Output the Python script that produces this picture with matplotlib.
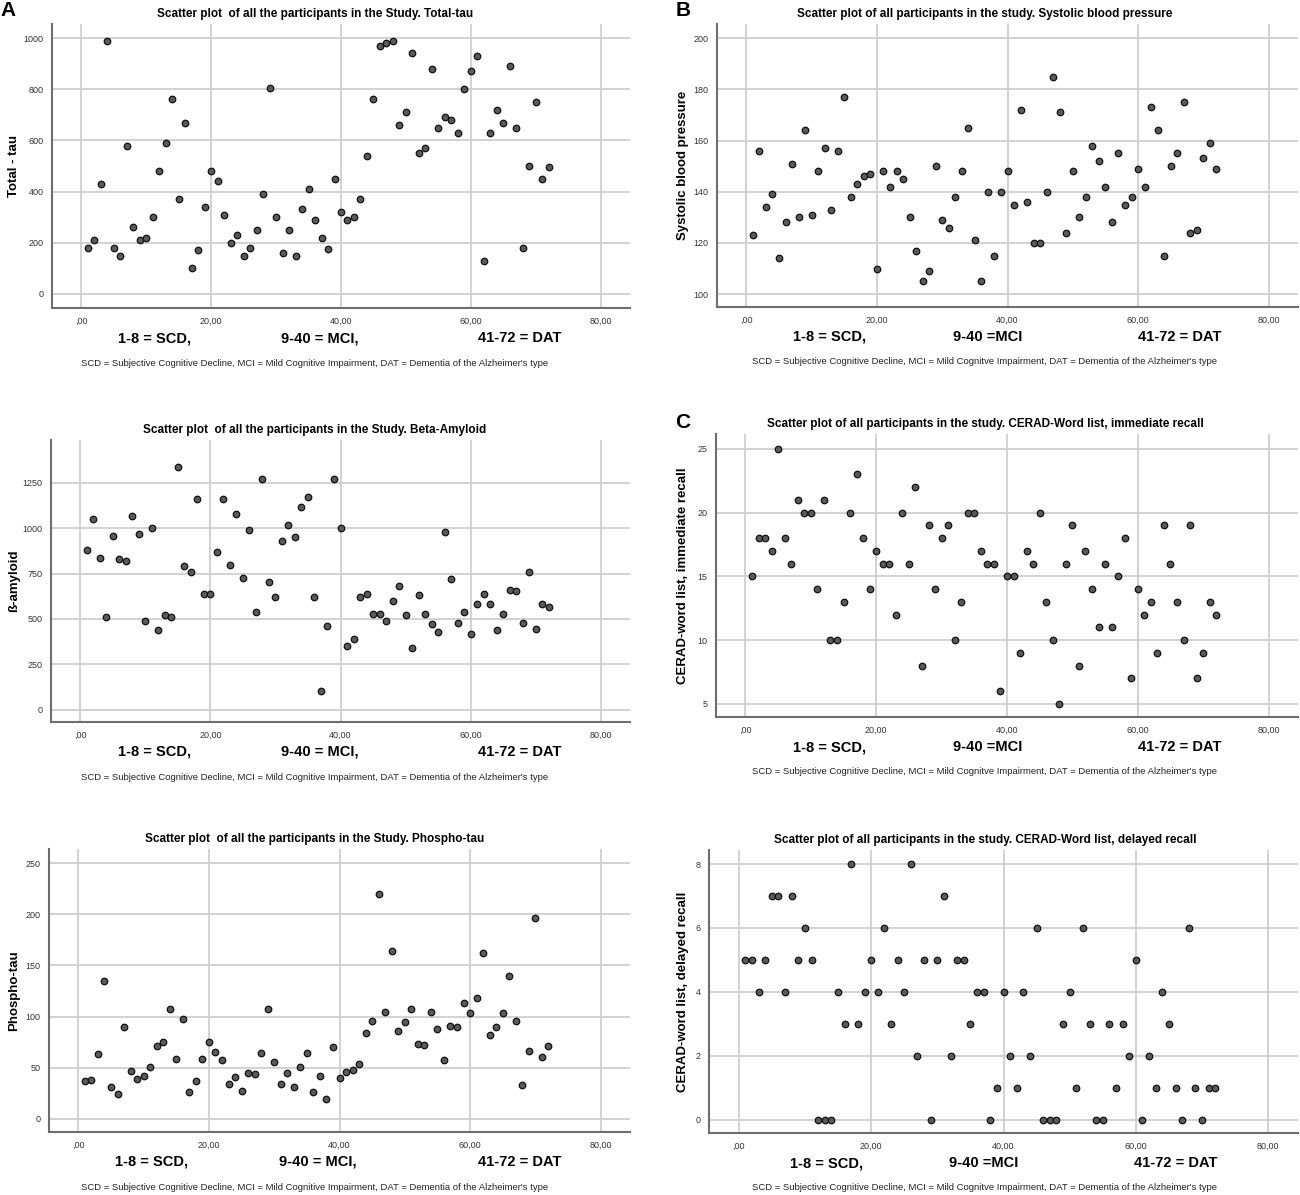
import matplotlib
matplotlib.use("Agg")
import matplotlib.pyplot as plt

plt.rcParams["font.family"] = ["Liberation Sans", "DejaVu Sans"]

# participant number 1..72
participants = list(range(1, 73))

total_tau = [180, 210, 430, 990, 180, 150, 580, 260, 210, 220, 300, 480, 590, 760, 370, 670,
             100, 170, 340, 480, 440, 310, 200, 230, 150, 180, 250, 390, 805, 300, 160, 250,
             150, 330, 410, 290, 220, 175, 450, 320, 290, 300, 370, 540, 760, 970, 980, 990,
             660, 710, 940, 550, 570, 880, 650, 690, 680, 630, 800, 870, 930, 130, 630, 720,
             670, 890, 650, 180, 500, 750, 450, 495]

systolic_bp = [123, 156, 134, 139, 114, 128, 151, 130, 164, 131, 148, 157, 133, 156, 177, 138,
               143, 146, 147, 110, 148, 142, 148, 145, 130, 117, 105, 109, 150, 129, 126, 138,
               148, 165, 121, 105, 140, 115, 140, 148, 135, 172, 136, 120, 120, 140, 185, 171,
               124, 148, 130, 138, 158, 152, 142, 128, 155, 135, 138, 149, 142, 173, 164, 115,
               150, 155, 175, 124, 125, 153, 159, 149]

beta_amyloid = [880, 1050, 835, 510, 960, 830, 820, 1070, 970, 490, 1000, 440, 520, 510, 1340, 790,
                760, 1160, 640, 640, 870, 1160, 800, 1080, 725, 990, 540, 1270, 705, 620, 930, 1020,
                950, 1120, 1170, 620, 105, 460, 1270, 1000, 350, 390, 620, 640, 530, 530, 490, 600,
                680, 520, 340, 630, 530, 475, 430, 980, 720, 480, 540, 420, 580, 640, 580, 440,
                530, 660, 655, 480, 760, 445, 580, 565]

immediate_recall = [15, 18, 18, 17, 25, 18, 16, 21, 20, 20, 14, 21, 10, 10, 13, 20,
                    23, 18, 14, 17, 16, 16, 12, 20, 16, 22, 8, 19, 14, 18, 19, 10,
                    13, 20, 20, 17, 16, 16, 6, 15, 15, 9, 17, 16, 20, 13, 10, 5,
                    16, 19, 8, 17, 14, 11, 16, 11, 15, 18, 7, 14, 12, 13, 9, 19,
                    16, 13, 10, 19, 7, 9, 13, 12]

phospho_tau = [37, 38, 63, 135, 31, 24, 90, 47, 39, 42, 51, 71, 75, 107, 58, 98,
               26, 37, 58, 75, 65, 57, 34, 41, 27, 45, 44, 64, 107, 56, 34, 45,
               31, 51, 64, 26, 42, 19, 70, 40, 46, 48, 54, 84, 96, 220, 104, 164,
               86, 95, 107, 73, 72, 104, 88, 57, 91, 90, 113, 103, 118, 162, 82, 90,
               103, 140, 96, 33, 66, 196, 60, 71]

delayed_recall = [5, 5, 4, 5, 7, 7, 4, 7, 5, 6, 5, 0, 0, 0, 4, 3,
                  8, 3, 4, 5, 4, 6, 3, 5, 4, 8, 2, 5, 0, 5, 7, 2,
                  5, 5, 3, 4, 4, 0, 1, 4, 2, 1, 4, 2, 6, 0, 0, 0,
                  3, 4, 1, 6, 3, 0, 0, 3, 1, 3, 2, 5, 0, 2, 1, 4,
                  3, 1, 0, 6, 1, 0, 1, 1]

x_ticks = [0, 20, 40, 60, 80]
x_ticklabels = [",00", "20,00", "40,00", "60,00", "80,00"]

footnote_a = "SCD = Subjective Cognitive Decline, MCI = Mild Cognitive Impairment, DAT = Dementia of the Alzheimer's type"
footnote_b = "SCD = Subjective Cognitive Decline, MCI = Mild Cognitve Impairment, DAT = Dementia of the Alzheimer's type"

W, H = 1300, 1195
fig = plt.figure(figsize=(W / 100, H / 100), dpi=100)


def px_axes(left, top, right, bottom):
    return fig.add_axes([left / W, 1 - bottom / H, (right - left) / W, (bottom - top) / H])


def panel(box, values, ylim, yticks, ylabel, title, title_x, groups, group_x, footnote,
          ylabel_x):
    left, top, right, bottom = box
    ax = px_axes(left, top, right, bottom)
    ax.scatter(participants, values, s=22, facecolor="#5a5a5a", edgecolor="#111111",
               linewidth=0.9, zorder=3)
    ax.set_xlim(-4.5, 84.5)
    ax.set_ylim(*ylim)
    ax.set_xticks(x_ticks)
    ax.set_xticklabels(x_ticklabels)
    ax.set_yticks(yticks)
    ax.set_yticklabels([str(t) for t in yticks])
    ax.tick_params(length=0, labelsize=6.5, labelcolor="#333333", pad=6)
    ax.grid(True, color="#cfcfcf", linewidth=1.3)
    ax.set_axisbelow(True)
    for s in ["top", "right"]:
        ax.spines[s].set_visible(False)
    for s in ["left", "bottom"]:
        ax.spines[s].set_color("#6e6e6e")
        ax.spines[s].set_linewidth(1.5)
    fig.text(ylabel_x / W, 1 - (top + bottom) / 2 / H, ylabel, rotation=90,
             ha="center", va="center", fontsize=9.5, fontweight="bold")
    fig.text(title_x / W, 1 - (top - 10) / H, title, ha="center", va="center",
             fontsize=8.5, fontweight="bold")
    for g, gx in zip(groups, group_x):
        fig.text(gx / W, 1 - (bottom + 30) / H, g, ha="center", va="center",
                 fontsize=10.5, fontweight="bold")
    fig.text(title_x / W, 1 - (bottom + 55) / H, footnote, ha="center", va="center",
             fontsize=6.8, color="#222222")
    return ax


groups_left = ["1-8 = SCD,", "9-40 = MCI,", "41-72 = DAT"]
groups_right = ["1-8 = SCD,", "9-40 =MCI", "41-72 = DAT"]

panel((52, 24, 630, 308), total_tau, (-55, 1055), [0, 200, 400, 600, 800, 1000],
      "Total - tau", "Scatter plot  of all the participants in the Study. Total-tau",
      315, groups_left, [155, 320, 520], footnote_a, 14)

panel((717, 24, 1298, 307), systolic_bp, (95, 205.5), [100, 120, 140, 160, 180, 200],
      "Systolic blood pressure", "Scatter plot of all participants in the study. Systolic blood pressure",
      985, groups_right, [830, 988, 1180], footnote_b, 683)

panel((51, 440, 630, 722), beta_amyloid, (-68, 1487), [0, 250, 500, 750, 1000, 1250],
      "ß-amyloid", "Scatter plot  of all the participants in the Study. Beta-Amyloid",
      315, groups_left, [155, 320, 520], footnote_a, 14)

panel((716, 434, 1298, 717), immediate_recall, (3.98, 26.15), [5, 10, 15, 20, 25],
      "CERAD-word list, immediate recall",
      "Scatter plot of all participants in the study. CERAD-Word list, immediate recall",
      985, groups_right, [830, 988, 1180], footnote_b, 683)

panel((49, 849, 630, 1132), phospho_tau, (-13, 264), [0, 50, 100, 150, 200, 250],
      "Phospho-tau", "Scatter plot  of all the participants in the Study. Phospho-tau",
      315, groups_left, [152, 318, 520], footnote_a, 14)

panel((709, 850, 1298, 1133), delayed_recall, (-0.42, 8.44), [0, 2, 4, 6, 8],
      "CERAD-word list, delayed recall",
      "Scatter plot of all participants in the study. CERAD-Word list, delayed recall",
      985, groups_right, [827, 984, 1176], footnote_b, 683)

for letter, lx, ly in [("A", 8, 10), ("B", 683, 10), ("C", 683, 422)]:
    fig.text(lx / W, 1 - ly / H, letter, ha="center", va="center", fontsize=15,
             fontweight="bold")

fig.savefig("out.png", dpi=100)
